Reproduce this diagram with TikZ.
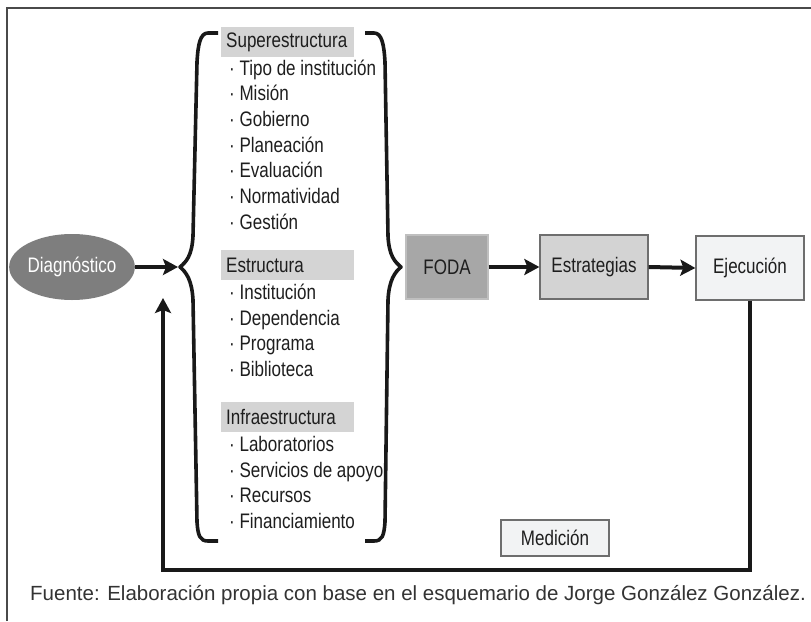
\documentclass[tikz,border=0pt]{standalone}
\usepackage{fontspec}
\setmainfont{Liberation Sans}
\newfontfamily\condfont[FakeStretch=0.81]{Liberation Sans}
\usetikzlibrary{shapes.geometric,arrows.meta}
\definecolor{txt}{HTML}{1E1E1E}
\definecolor{ellfill}{HTML}{7E7E7E}
\definecolor{fodafill}{HTML}{A7A7A7}
\definecolor{estfill}{HTML}{D3D3D3}
\definecolor{ejefill}{HTML}{F2F3F4}
\definecolor{hdrfill}{HTML}{D4D4D4}
\definecolor{framecol}{HTML}{4A4A4A}
\begin{document}
\begin{tikzpicture}[x=1pt,y=-1pt,
  every node/.style={font=\condfont\fontsize{21}{24}\selectfont, text=txt},
  hdr/.style={fill=hdrfill, draw=none, anchor=north west, minimum width=133, minimum height=30, text width=123, inner xsep=5, inner ysep=0, align=left},
  itm/.style={anchor=base west, inner sep=0},
  boxx/.style={draw=framecol!80, line width=1.3, minimum height=64, inner sep=0},
  arr/.style={line width=4, draw=black!90, -{Stealth[length=15,width=16,inset=3]}},
  brace/.style={line width=3.6, draw=black!90, line cap=butt, line join=round},
  ret/.style={line width=4, draw=black!90, -{Stealth[length=15,width=16,inset=3]}}
]
\useasboundingbox (0,0) rectangle (811,621);
\fill[white] (0,0) rectangle (811,621);
% frame
\draw[framecol, line width=1.5] (7,621) -- (7,8) -- (811,8);

% Diagnostico
\node[ellipse, fill=ellfill, minimum width=108, minimum height=66, inner sep=0, text=white] (diag) at (72,267) {Diagnóstico};
\coordinate (bracein) at (178,267);
\draw[arr] (diag.east) -- (bracein);

% braces
\draw[brace] (218,33) -- (208,33) .. controls (200,33) and (198,45) .. (197,62)
  -- (193,236) .. controls (192,256) and (186,262) .. (180,267)
  .. controls (186,272) and (192,280) .. (193,300)
  -- (197,522) .. controls (198,536) and (200,541) .. (208,541) -- (218,541);
\draw[brace] (365,33) -- (374,33) .. controls (382,33) and (384,45) .. (385,62)
  -- (388,236) .. controls (389,256) and (395,262) .. (401,267)
  .. controls (395,272) and (389,280) .. (388,300)
  -- (385,522) .. controls (384,536) and (382,541) .. (374,541) -- (365,541);

% headers
\node[hdr] (h1) at (221,27) {Superestructura};
\node[hdr] (h2) at (221,250) {Estructura};
\node[hdr] (h3) at (221,402) {Infraestructura};

% items
\node[itm] (i1) at (229,75) {· Tipo de institución};
\node[itm] (i2) at (229,100.7) {· Misión};
\node[itm] (i3) at (229,126.4) {· Gobierno};
\node[itm] (i4) at (229,152.1) {· Planeación};
\node[itm] (i5) at (229,177.8) {· Evaluación};
\node[itm] (i6) at (229,203.5) {· Normatividad};
\node[itm] (i7) at (229,229.2) {· Gestión};

\node[itm] (j1) at (229,299.5) {· Institución};
\node[itm] (j2) at (229,325.2) {· Dependencia};
\node[itm] (j3) at (229,350.9) {· Programa};
\node[itm] (j4) at (229,376.6) {· Biblioteca};

\node[itm] (k1) at (229,451.5) {· Laboratorios};
\node[itm] (k2) at (229,477.2) {· Servicios de apoyo};
\node[itm] (k3) at (229,502.9) {· Recursos};
\node[itm] (k4) at (229,528.6) {· Financiamiento};

% process boxes
\node[boxx, fill=fodafill, draw=black!25, minimum width=82] (foda) at (447,267) {FODA};
\node[boxx, fill=estfill, minimum width=108] (estr) at (594,267) {Estrategias};
\node[boxx, fill=ejefill, minimum width=108] (ejec) at (750,268) {Ejecución};
\node[boxx, fill=ejefill, minimum width=108, minimum height=36] (med) at (555,538) {Medición};

\draw[arr] (foda.east) -- (estr.west);
\draw[arr] (estr.east) -- (ejec.west);

% return loop
\coordinate (lowR) at (750,570);
\coordinate (lowL) at (163,570);
\coordinate (fb) at (163,298);
\draw[ret, line join=miter] (ejec.south) -- (lowR) -- (lowL) -- (fb);

% caption
\node[anchor=base west, inner sep=0, font=\fontsize{20.5}{24}\selectfont, text=black!80] (cap) at (30,600) {Fuente: Elaboración propia con base en el esquemario de Jorge González González.};
\end{tikzpicture}
\end{document}
